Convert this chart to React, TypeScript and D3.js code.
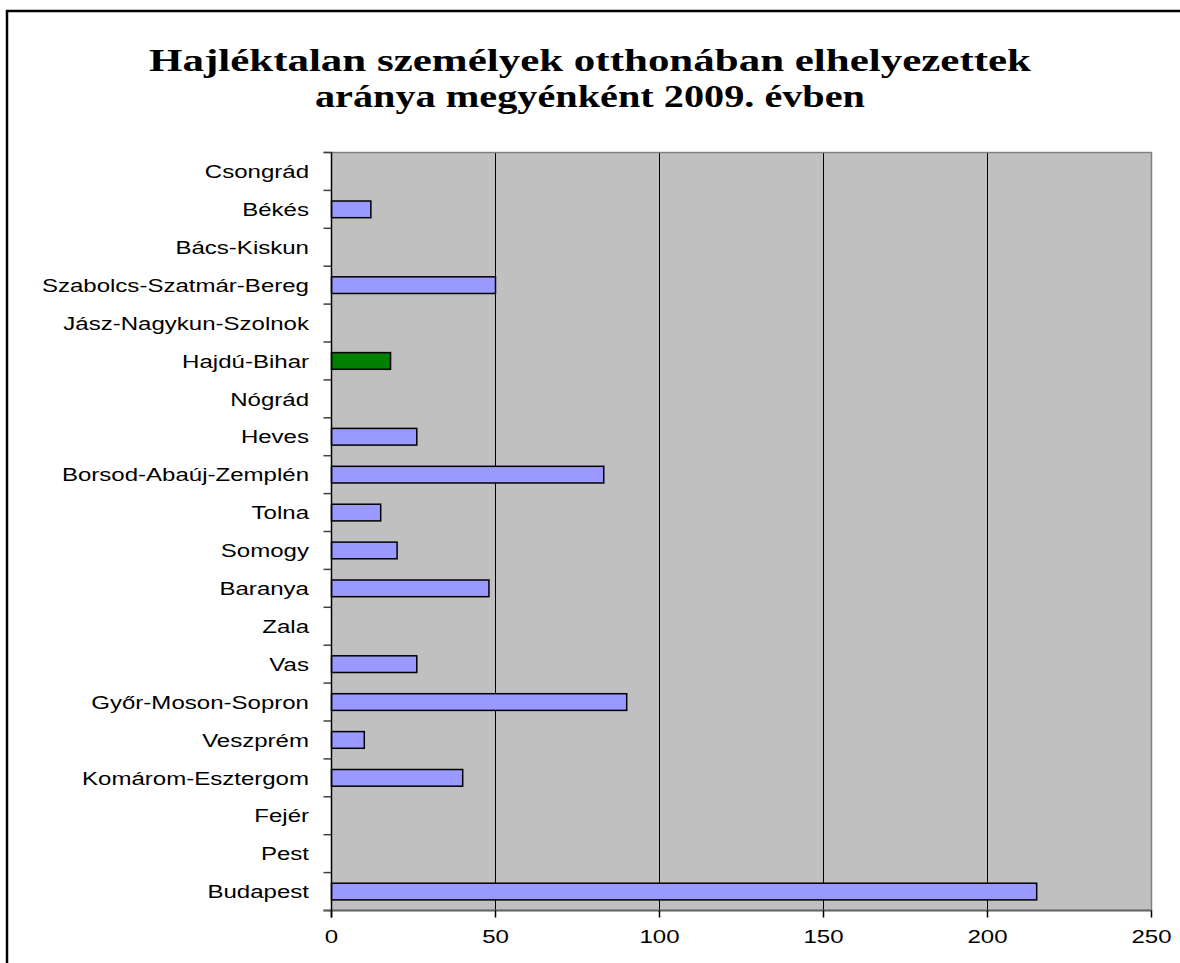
import React, { useEffect, useRef } from 'react';
import * as d3 from 'd3';

// counties, top to bottom as in the chart
const counties = [
  'Csongrád', 'Békés', 'Bács-Kiskun', 'Szabolcs-Szatmár-Bereg', 'Jász-Nagykun-Szolnok',
  'Hajdú-Bihar', 'Nógrád', 'Heves', 'Borsod-Abaúj-Zemplén', 'Tolna', 'Somogy', 'Baranya',
  'Zala', 'Vas', 'Győr-Moson-Sopron', 'Veszprém', 'Komárom-Esztergom', 'Fejér', 'Pest', 'Budapest',
];
const placed: (number | null)[] = [
  null, 12, null, 50, null, 18, null, 26, 83, 15, 20, 48, null, 26, 90, 10, 40, null, null, 215,
];
const highlighted = ['Hajdú-Bihar'];
const xTicks = [0, 50, 100, 150, 200, 250];
const titleLines = ['Hajléktalan személyek otthonában elhelyezettek', 'aránya megyénként 2009. évben'];

const W = 1180;
const H = 963;

const App: React.FC = () => {
  const svgRef = useRef<SVGSVGElement | null>(null);

  useEffect(() => {
    if (!svgRef.current) return;
    const svg = d3.select(svgRef.current);
    svg.selectAll('*').remove();

    const left = 331.5, right = 1151.5, top = 152.5, bottom = 910.5;
    const font = 'Arial, "Liberation Sans", sans-serif';
    const stretch = 1.3; // the original labels are rendered wide

    // outer frame (runs off the right / bottom of the picture)
    svg.append('rect')
      .attr('x', 7).attr('y', 11)
      .attr('width', W).attr('height', H)
      .attr('fill', 'white').attr('stroke', 'black').attr('stroke-width', 2.5);

    // title
    const titleWidths = [882, 550];
    svg.selectAll('.title')
      .data(titleLines)
      .enter().append('text')
        .attr('class', 'title')
        .attr('x', 590)
        .attr('y', (_d, i) => 71 + i * 36)
        .attr('text-anchor', 'middle')
        .attr('textLength', (_d, i) => titleWidths[i])
        .attr('lengthAdjust', 'spacingAndGlyphs')
        .style('font-family', '"Liberation Serif", "Times New Roman", serif')
        .style('font-weight', 'bold')
        .style('font-size', '32px')
        .text(d => d);

    const x = d3.scaleLinear().domain([0, 250]).range([left, right]);
    const y = d3.scaleBand<string>().domain(counties).range([top, bottom])
      .paddingInner(0.56).paddingOuter(0.28);
    const step = y.step();

    // plot area
    svg.append('rect')
      .attr('x', left).attr('y', top)
      .attr('width', right - left).attr('height', bottom - top)
      .attr('fill', '#C0C0C0');

    // gridlines
    svg.selectAll('.grid')
      .data(xTicks.filter(t => t > 0 && t < 250))
      .enter().append('line')
        .attr('x1', d => x(d)).attr('x2', d => x(d))
        .attr('y1', top).attr('y2', bottom)
        .attr('stroke', 'black').attr('stroke-width', 1);

    // top and right border
    svg.append('path')
      .attr('d', `M${left - 8},${top}H${right}V${bottom}`)
      .attr('fill', 'none').attr('stroke', '#808080').attr('stroke-width', 1.5);

    // bars
    const rows = counties.map((c, i) => ({ county: c, value: placed[i] }));
    svg.selectAll('.bar')
      .data(rows.filter(r => r.value !== null))
      .enter().append('rect')
        .attr('class', 'bar')
        .attr('x', x(0))
        .attr('y', d => y(d.county)!)
        .attr('width', d => x(d.value as number) - x(0))
        .attr('height', y.bandwidth())
        .attr('fill', d => highlighted.includes(d.county) ? '#008000' : '#9999FF')
        .attr('stroke', 'black').attr('stroke-width', 1.5);

    // y axis ticks at category boundaries
    svg.selectAll('.ytick')
      .data(d3.range(counties.length + 1))
      .enter().append('line')
        .attr('x1', left - 8).attr('x2', left)
        .attr('y1', i => top + i * step).attr('y2', i => top + i * step)
        .attr('stroke', '#404040').attr('stroke-width', 1.5);

    // bottom axis
    svg.append('line')
      .attr('x1', left - 8).attr('x2', right)
      .attr('y1', bottom).attr('y2', bottom)
      .attr('stroke', '#606060').attr('stroke-width', 2);

    // left axis
    svg.append('line')
      .attr('x1', left).attr('x2', left)
      .attr('y1', top).attr('y2', bottom + 7)
      .attr('stroke', 'black').attr('stroke-width', 1.5);

    // x ticks + labels
    svg.selectAll('.xtick')
      .data(xTicks)
      .enter().append('line')
        .attr('x1', d => x(d)).attr('x2', d => x(d))
        .attr('y1', bottom).attr('y2', bottom + 7)
        .attr('stroke', 'black').attr('stroke-width', 1.5);

    svg.selectAll('.xlabel')
      .data(xTicks)
      .enter().append('text')
        .attr('transform', d => `translate(${x(d)},943) scale(${stretch},1)`)
        .attr('text-anchor', 'middle')
        .style('font-family', font)
        .style('font-size', '18.5px')
        .text(d => String(d));

    // category labels
    svg.selectAll('.ylabel')
      .data(counties)
      .enter().append('text')
        .attr('transform', d => `translate(309,${y(d)! + y.bandwidth() / 2}) scale(${stretch},1)`)
        .attr('dy', '0.36em')
        .attr('text-anchor', 'end')
        .style('font-family', font)
        .style('font-size', '18.5px')
        .text(d => d);
  }, []);

  return (
    <svg
      ref={svgRef}
      width={W}
      height={H}
      style={{ position: 'absolute', left: 0, top: 0, background: 'white' }}
    />
  );
};

export default App;
